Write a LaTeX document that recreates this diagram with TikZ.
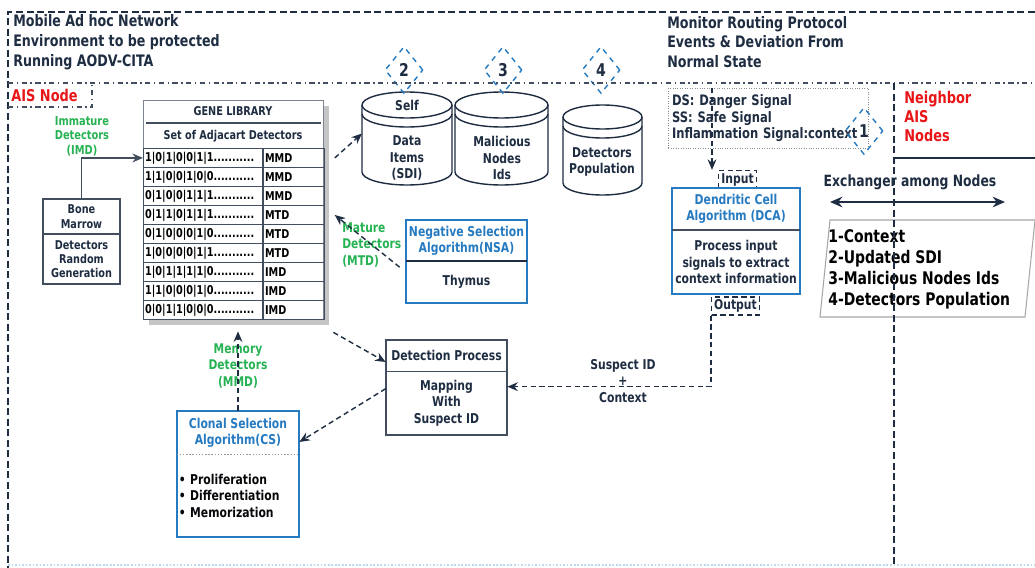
\documentclass[tikz,border=0pt]{standalone}
\usepackage{fontspec}
\setmainfont{DejaVu Sans}[FakeStretch=0.8]
\usepackage{tikz}
\usetikzlibrary{positioning,calc,shapes.geometric,shadows,arrows.meta}
\definecolor{inkblue}{RGB}{31,45,66}
\definecolor{algblue}{RGB}{38,122,192}
\definecolor{detgreen}{RGB}{38,178,82}
\definecolor{aisred}{RGB}{232,22,24}
\definecolor{boxgray}{RGB}{66,78,96}

\begin{document}
\begin{tikzpicture}[x=0.02cm,y=-0.02cm,
	txt/.style={text=inkblue,font=\bfseries\fontsize{7.7}{9.3}\selectfont,align=center,inner sep=1pt},
	head/.style={text=inkblue,font=\bfseries\fontsize{9}{11.3}\selectfont,align=left,anchor=west,inner sep=0pt},
	tag/.style={text=detgreen,font=\bfseries\fontsize{7.6}{9.3}\selectfont,align=center,inner sep=0pt},
	redtag/.style={text=aisred,font=\bfseries\fontsize{9.2}{10.8}\selectfont,align=left,anchor=west,inner sep=0pt},
	cell/.style={draw=boxgray,line width=0.5pt,anchor=north west,minimum height=0.38cm,inner sep=1pt,align=left,text=black,font=\bfseries\fontsize{6.9}{8}\selectfont},
	dbase/.style={inner sep=0pt,outer sep=0pt},
	dbline/.style={draw=inkblue,line width=0.8pt},
	marker/.style={diamond,draw=algblue,dashed,line width=0.8pt,minimum width=0.76cm,minimum height=0.94cm,inner sep=0pt,text=inkblue,font=\bfseries\fontsize{10}{12}\selectfont},
	algtitle/.style={txt,text=algblue},
	flow/.style={-{Stealth[length=6pt,width=5pt]},inkblue,densely dashed,line width=0.8pt},
	feed/.style={-{Stealth[length=6pt,width=5pt]},boxgray,line width=1pt},
	io/.style={txt,draw=inkblue,densely dashed,line width=0.7pt,inner sep=1.5pt}]

	\useasboundingbox (0,0) rectangle (1035,568);

	\node[head] (manet) at (13,42) {Mobile Ad hoc Network\\Environment to be protected\\Running AODV-CITA};
	\node[head] (monitor) at (667,42) {Monitor Routing Protocol\\Events \& Deviation From\\Normal State};
	\node[redtag] (aisnode) at (11,95) {AIS Node};
	\node[redtag] (neighbor) at (904,116) {Neighbor\\AIS\\Nodes};

	% gene library
	\node[draw=boxgray!70,fill=white,line width=0.8pt,drop shadow={shadow xshift=0.1cm,shadow yshift=-0.1cm,fill=black!45},anchor=north west,minimum width=3.6cm,minimum height=4.38cm] (genelib) at (143,100) {};
	\node[txt,font=\bfseries\fontsize{6.9}{8}\selectfont] (libtitle) at (233,111) {GENE LIBRARY};
	\draw[boxgray,line width=1.5pt] (146,123) -- (321,123);
	\node[txt,font=\bfseries\fontsize{6.9}{8}\selectfont] (libset) at (233,136) {Set of Adjacart Detectors};
	\foreach \bits/\kind [count=\i] in {1|0|1|0|0|1|1/MMD,1|1|0|0|1|0|0/MMD,0|1|0|0|1|1|1/MMD,0|1|1|0|1|1|1/MTD,0|1|0|0|0|1|0/MTD,1|0|0|0|0|1|1/MTD,1|0|1|1|1|1|0/IMD,1|1|0|0|0|1|0/IMD,0|0|1|1|0|0|0/IMD}{
		\node[cell,text width=2.31cm] (bits\i) at (143,{148+19*(\i-1)}) {\bits...........};
		\node[cell,text width=1.15cm] (kind\i) at (bits\i.north east) {\kind};
	}

	% bone marrow
	\node[txt,font=\bfseries\fontsize{6.9}{8.2}\selectfont,minimum width=1.54cm,minimum height=0.7cm] (bmtop) at (81.5,216.5) {Bone\\Marrow};
	\node[txt,font=\bfseries\fontsize{6.9}{8.2}\selectfont,minimum width=1.54cm,minimum height=0.98cm,below=0pt of bmtop] (bmbot) {Detectors\\Random\\Generation};
	\draw[boxgray,line width=1pt] (bmtop.north west) rectangle (bmbot.south east);
	\draw[boxgray,line width=1pt] (bmtop.south west) -- (bmtop.south east);
	\node[tag,font=\bfseries\fontsize{7}{8.3}\selectfont] (imd) at (82,136) {Immature\\Detectors\\(IMD)};

	% databases
	\foreach \db/\cx/\cy/\w/\h/\ry in {sdi/407/138.5/90/93/13,malicious/501.5/138.5/93/93/13,population/602.5/150/79/90/12}{
		\node[dbase,minimum width=\w*0.02cm,minimum height=\h*0.02cm] (\db) at (\cx,\cy) {};
		\draw[dbline] ($(\db.north west)+(0,\ry)$) -- ($(\db.south west)+(0,-\ry)$)
			arc[start angle=180,end angle=0,x radius=\w/2,y radius=\ry] -- ($(\db.north east)+(0,\ry)$);
		\draw[dbline] ($(\db.north)+(0,\ry)$) ellipse[x radius=\w/2,y radius=\ry];
		\draw[dbline] ($(\db.north west)+(0,\ry+9)$) arc[start angle=180,end angle=0,x radius=\w/2,y radius=\ry];
	}
	\node[txt] (self) at (407,105) {Self};
	\node[txt] (sdilabel) at (407,158) {Data\\Items\\(SDI)};
	\node[txt] (ids) at (502,158) {Malicious\\Nodes\\Ids};
	\node[txt] (poplabel) at (602,162) {Detectors\\Population};
	\foreach \n/\x/\y in {2/404/70,3/503/70,4/601/70}
		\node[marker] (mark\n) at (\x,\y) {\n};

	% signals and DCA
	\node[txt,draw=black!45,densely dotted,line width=0.4pt,anchor=north west,minimum width=4cm,minimum height=1.2cm,text width=3.85cm,align=left,font=\bfseries\fontsize{8.2}{9.4}\selectfont] (signals) at (668,88) {DS: Danger Signal\\SS: Safe Signal\\Inflammation Signal:context};
	\node[marker] (mark1) at (864,131) {1};
	\node[io] (input) at (737.5,179.5) {Input};
	\node[algtitle,minimum width=2.56cm,minimum height=0.84cm] (dcatitle) at (736,209) {Dendritic Cell\\Algorithm (DCA)};
	\node[txt,minimum width=2.56cm,minimum height=1.26cm,below=0pt of dcatitle] (dcabody) {Process input\\signals to extract\\context information};
	\draw[algblue,line width=1.2pt] (dcatitle.north west) rectangle (dcabody.south east);
	\draw[boxgray,line width=1pt] (dcatitle.south west) -- (dcatitle.south east);
	\node[io] (output) at (735.5,306) {Output};

	% negative selection
	\node[algtitle,minimum width=2.42cm,minimum height=0.82cm] (nsatitle) at (466.5,240.5) {Negative Selection\\Algorithm(NSA)};
	\node[txt,minimum width=2.42cm,minimum height=0.82cm,below=0pt of nsatitle] (nsabody) {Thymus};
	\draw[algblue,line width=1.2pt] (nsatitle.north west) rectangle (nsabody.south east);
	\draw[inkblue,line width=1pt] (nsatitle.south west) -- (nsatitle.south east);
	\node[tag,anchor=west,align=left] (mtd) at (342,245) {Mature\\Detectors\\(MTD)};

	% detection
	\node[txt,minimum width=2.42cm,minimum height=0.62cm] (dettitle) at (446.5,355.5) {Detection Process};
	\node[txt,minimum width=2.42cm,minimum height=1.26cm,below=0pt of dettitle] (detbody) {Mapping\\With\\Suspect ID};
	\draw[boxgray,line width=1pt] (dettitle.north west) rectangle (detbody.south east);
	\draw[boxgray,line width=0.8pt] (dettitle.south west) -- (dettitle.south east);
	\node[txt] (suspect) at (623,381) {Suspect ID\\+\\Context};

	% clonal selection
	\node[algtitle,minimum width=2.44cm,minimum height=0.86cm] (cstitle) at (238,432.5) {Clonal Selection\\Algorithm(CS)};
	\node[txt,text=black!85!inkblue,minimum width=2.44cm,minimum height=1.64cm,text width=2.37cm,align=left,below=0pt of cstitle] (csbody) {\textbullet\ Proliferation\\\textbullet\ Differentiation\\\textbullet\ Memorization\\[10pt]};
	\draw[algblue,line width=1.2pt] (cstitle.north west) rectangle (csbody.south east);
	\draw[black!40,densely dotted,line width=0.8pt] (cstitle.south west) -- (cstitle.south east);
	\node[tag] (mmd) at (238,366) {Memory\\Detectors\\(MMD)};

	% exchange between neighbours
	\node[txt,font=\bfseries\fontsize{8.8}{10}\selectfont] (exlabel) at (910,182) {Exchanger among Nodes};
	\coordinate (exleft) at (830,202);
	\coordinate (exright) at (1005,202);
	\draw[{Stealth[length=7pt,width=6pt]}-{Stealth[length=7pt,width=6pt]},inkblue,line width=1.3pt] (exleft) -- (exright);
	\draw[black!35,line width=0.6pt] (830,220) -- (1035,220) -- (1025,317) -- (820,317) -- cycle;
	\node[anchor=west,align=left,inner sep=0pt,text=black,font=\bfseries\fontsize{9.9}{11.9}\selectfont] (exlist) at (828,269) {1-Context\\2-Updated SDI\\3-Malicious Nodes Ids\\4-Detectors Population};

	% borders
	\draw[inkblue,line width=0.9pt,dash pattern=on 4pt off 2pt] (1035,12) -- (8,12) -- (8,568);
	\draw[boxgray,line width=0.8pt,dash dot] (8,83) -- (1035,83);
	\draw[boxgray,line width=0.8pt,dash dot] (8,107) -- (92,107) -- (92,83);
	\draw[inkblue,line width=0.9pt,dash pattern=on 4pt off 2pt] (894,83) -- (894,568);
	\draw[inkblue,line width=1.2pt] (894,158) -- (1035,158);
	\draw[algblue!30,line width=1pt,densely dotted] (8,565) -- (1035,565);

	% connectors
	\draw[feed] (bmtop.north) |- (bits1.west);
	\draw[flow] ([xshift=0.2cm]kind1.east) -- ([yshift=0.1cm]sdi.west);
	\draw[flow] ([xshift=-0.12cm,yshift=0.3cm]nsabody.west) -- ([xshift=0.2cm]kind4.east);
	\coordinate (sigtap) at ($(signals.north west)+(44,0)$);
	\draw[flow] (sigtap) -- (sigtap |- input.north);
	\draw[flow] (output.south west) |- ([yshift=0.33cm]detbody.east);
	\draw[flow] ($(genelib.south east)+(9,12)$) -- ([yshift=-0.13cm]dettitle.west);
	\draw[flow] ([yshift=0.29cm]detbody.west) -- ([yshift=-0.19cm]cstitle.east);
	\draw[flow] (cstitle.north) -- ($(cstitle.north |- genelib.south)+(0,11)$);
\end{tikzpicture}
\end{document}
